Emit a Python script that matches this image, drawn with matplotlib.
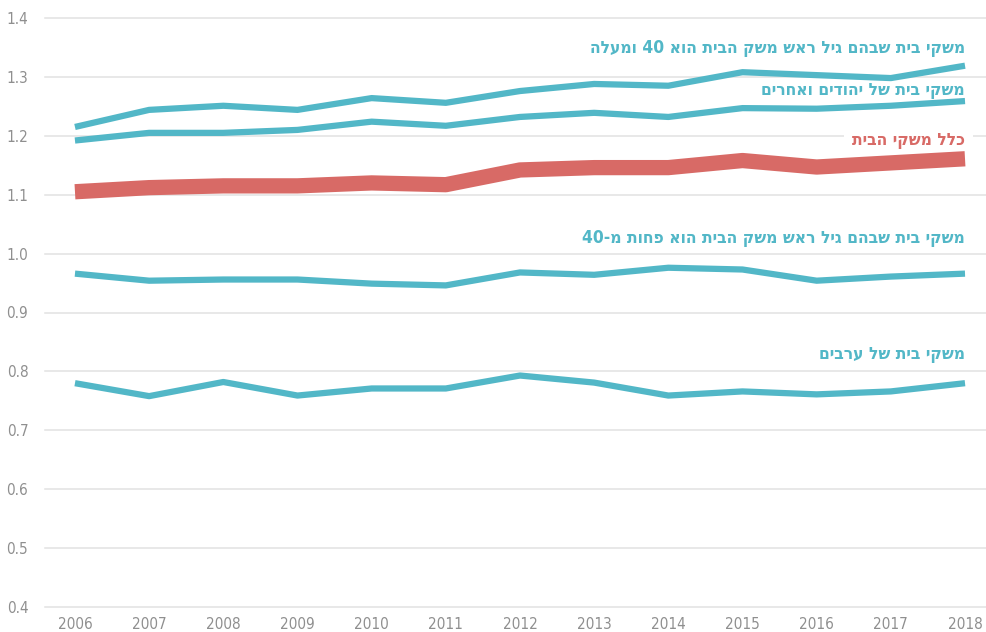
import re
import matplotlib.pyplot as plt

years = list(range(2006, 2019))

age_40_plus = [1.215, 1.244, 1.251, 1.244, 1.264, 1.256, 1.276, 1.288, 1.285, 1.308, 1.303, 1.298, 1.319]
jews_others = [1.192, 1.205, 1.205, 1.210, 1.224, 1.217, 1.232, 1.239, 1.232, 1.247, 1.246, 1.251, 1.259]
all_households = [1.105, 1.112, 1.115, 1.115, 1.120, 1.117, 1.142, 1.146, 1.146, 1.158, 1.147, 1.154, 1.161]
age_under_40 = [0.966, 0.954, 0.956, 0.956, 0.949, 0.946, 0.968, 0.964, 0.976, 0.973, 0.954, 0.961, 0.966]
arabs = [0.780, 0.758, 0.782, 0.759, 0.771, 0.771, 0.793, 0.781, 0.759, 0.766, 0.761, 0.766, 0.780]

y_ticks = [0.4, 0.5, 0.6, 0.7, 0.8, 0.9, 1.0, 1.1, 1.2, 1.3, 1.4]

labels = {
    'age_40_plus': 'משקי בית שבהם גיל ראש משק הבית הוא 40 ומעלה',
    'jews_others': 'משקי בית של יהודים ואחרים',
    'all': 'כלל משקי הבית',
    'age_under_40': 'משקי בית שבהם גיל ראש משק הבית הוא פחות מ-40',
    'arabs': 'משקי בית של ערבים',
}

TEAL = '#52b7c7'
RED = '#d86a66'


def rtl(s):
    # matplotlib has no bidi support: flip the string, keep digit runs in order
    return re.sub(r'\d+', lambda m: m.group(0)[::-1], s[::-1])


fig = plt.figure(figsize=(9.86, 6.32), dpi=100)
ax = fig.add_axes([45 / 986, 25 / 632, 941 / 986, 589 / 632])

for v in y_ticks:
    ax.axhline(v, color='#e2e2e2', lw=1.1, zorder=0, clip_on=False)

ax.plot(years, age_40_plus, color=TEAL, lw=4.5, solid_capstyle='butt')
ax.plot(years, jews_others, color=TEAL, lw=4.5, solid_capstyle='butt')
ax.plot(years, age_under_40, color=TEAL, lw=4.5, solid_capstyle='butt')
ax.plot(years, arabs, color=TEAL, lw=4.5, solid_capstyle='butt')
ax.plot(years, all_households, color=RED, lw=11, solid_capstyle='butt', zorder=3)

font = dict(family='DejaVu Sans', stretch='condensed', fontweight='bold',
            fontsize=12.5, ha='right', va='center')
ax.text(2018, 1.349, rtl(labels['age_40_plus']), color=TEAL, **font)
ax.text(2018, 1.278, rtl(labels['jews_others']), color=TEAL, **font)
ax.text(2018, 1.193, rtl(labels['all']), color=RED, zorder=2,
        bbox=dict(facecolor='white', edgecolor='none', pad=6), **font)
ax.text(2018, 1.027, rtl(labels['age_under_40']), color=TEAL, **font)
ax.text(2018, 0.829, rtl(labels['arabs']), color=TEAL, **font)

ax.set_xlim(2005.596, 2018.283)
ax.set_ylim(0.4, 1.4)
ax.set_xticks(years)
ax.set_yticks(y_ticks)
ax.set_yticklabels([f'{v:.1f}' for v in y_ticks])
for side in ['top', 'right', 'left', 'bottom']:
    ax.spines[side].set_visible(False)
ax.tick_params(length=0, labelsize=11, labelcolor='#8f8f8f')
ax.tick_params(axis='y', pad=12)
ax.tick_params(axis='x', pad=7)
for t in ax.get_xticklabels() + ax.get_yticklabels():
    t.set_family('DejaVu Sans')
    t.set_stretch('condensed')

plt.savefig('out.png', dpi=100)
